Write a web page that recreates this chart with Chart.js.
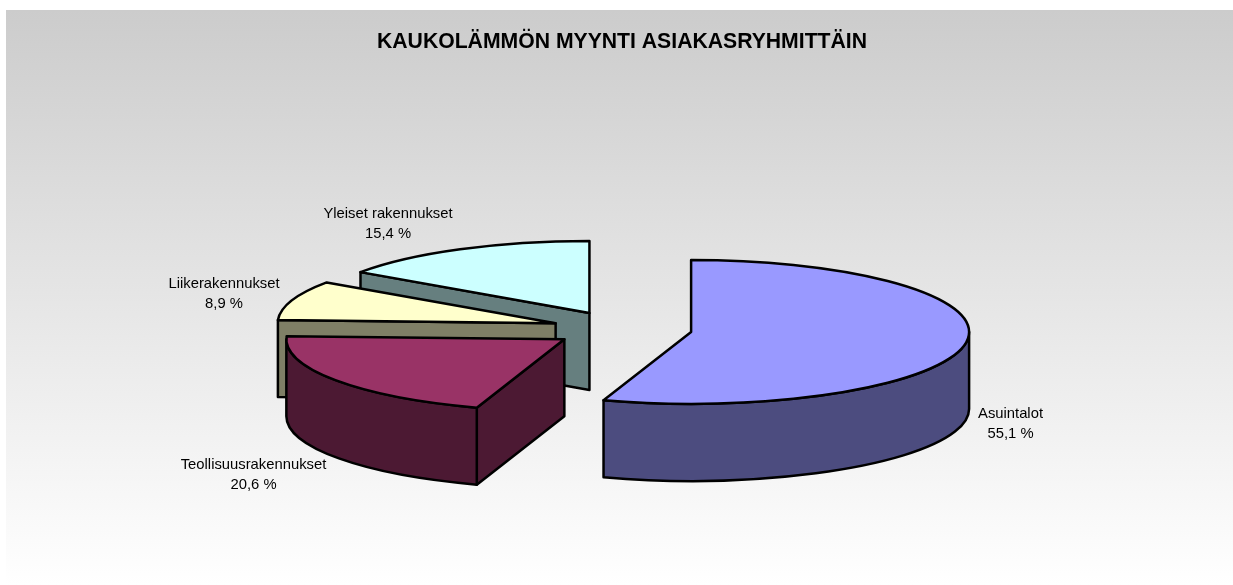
<!DOCTYPE html>
<html><head><meta charset="utf-8">
<style>html,body{margin:0;padding:0;background:#fff}canvas{display:block}#w{width:1233px;height:585px}</style>
<script src="https://cdn.jsdelivr.net/npm/chart.js@4/dist/chart.umd.min.js"></script>
</head><body><div id="w"><canvas id="c" width="1233" height="585"></canvas></div>
<script>
const titleText = 'KAUKOLÄMMÖN MYYNTI ASIAKASRYHMITTÄIN';
const categories = ['Asuintalot','Teollisuusrakennukset','Liikerakennukset','Yleiset rakennukset'];
const values = [55.1,20.6,8.9,15.4];
const valueLabels = ['55,1 %','20,6 %','8,9 %','15,4 %'];
const topColors = ['#9999FF','#993366','#FFFFCC','#CCFFFF'];
const wallColors = ['#4C4C7F','#4C1933','#7F7F66','#667F7F'];
const labelCentres = [[1010.5,414],[253.5,465],[224,284],[388,214]];
const paintOrder = [3,2,1,0];
const squash = 0.259, depth = 77, explode = 70;

const solidPie = {
  id:'solidPie',
  beforeDraw(chart){
    const ctx = chart.ctx;
    const g = ctx.createLinearGradient(0,10,0,585);
    g.addColorStop(0,'#CCCCCC'); g.addColorStop(1,'#FFFFFF');
    ctx.save(); ctx.fillStyle = g; ctx.fillRect(6,10,1227,575); ctx.restore();
  },
  beforeDatasetDraw(chart,args){
    const ctx = chart.ctx, arcs = args.meta.data;
    paintOrder.forEach(i=>{
      const a = arcs[i], mid = (a.startAngle+a.endAngle)/2, R = a.outerRadius;
      const dx = Math.cos(mid)*explode, dy = squash*Math.sin(mid)*explode;
      const px = a.x + dx, py = a.y + dy;
      const pt = t => [px+R*Math.cos(t), py+squash*R*Math.sin(t)];
      const stroke = () => { ctx.lineWidth=2.5; ctx.strokeStyle='#000'; ctx.lineJoin='round'; ctx.stroke(); };
      const wallFill = () => { ctx.fillStyle = wallColors[i]; ctx.fill(); stroke(); };
      const quad = t => { const [x,y]=pt(t); ctx.beginPath(); ctx.moveTo(px,py); ctx.lineTo(x,y); ctx.lineTo(x,y+depth); ctx.lineTo(px,py+depth); ctx.closePath(); wallFill(); };
      if (Math.cos(a.startAngle) < -1e-6) quad(a.startAngle);
      if (Math.cos(a.endAngle) > 1e-6) quad(a.endAngle);
      const s = Math.max(a.startAngle,0), e = Math.min(a.endAngle,Math.PI);
      if (e > s) {
        ctx.beginPath();
        ctx.ellipse(px,py,R,squash*R,0,s,e);
        ctx.ellipse(px,py+depth,R,squash*R,0,e,s,true);
        ctx.closePath(); wallFill();
      }
      // top face: the library's own arc, squashed and moved out
      ctx.save();
      ctx.translate(dx,dy);
      ctx.translate(a.x,a.y); ctx.scale(1,squash); ctx.translate(-a.x,-a.y);
      a.draw(ctx);
      ctx.restore();
      ctx.beginPath();
      ctx.moveTo(px,py);
      ctx.ellipse(px,py,R,squash*R,0,a.startAngle,a.endAngle);
      ctx.closePath(); stroke();
    });
    ctx.save();
    ctx.font = '14.8px "Liberation Sans"'; ctx.fillStyle = '#000';
    ctx.textAlign = 'center'; ctx.textBaseline = 'middle';
    categories.forEach((c,i)=>{
      const [x,y] = labelCentres[i];
      ctx.fillText(c,x,y); ctx.fillText(valueLabels[i],x,y+20);
    });
    ctx.restore();
    return false;
  }
};

new Chart(document.getElementById('c'),{
  type:'pie',
  data:{labels:categories,datasets:[{data:values,backgroundColor:topColors,borderWidth:0,radius:278}]},
  options:{
    responsive:false,animation:false,
    layout:{padding:{left:11,right:0,top:29,bottom:0}},
    plugins:{
      legend:{display:false},tooltip:{enabled:false},
      title:{display:true,text:titleText,color:'#000',
        font:{family:'"Liberation Sans"',size:21.2,weight:'bold'},
        padding:{top:0,bottom:18.6}}
    }
  },
  plugins:[solidPie]
});
</script></body></html>
